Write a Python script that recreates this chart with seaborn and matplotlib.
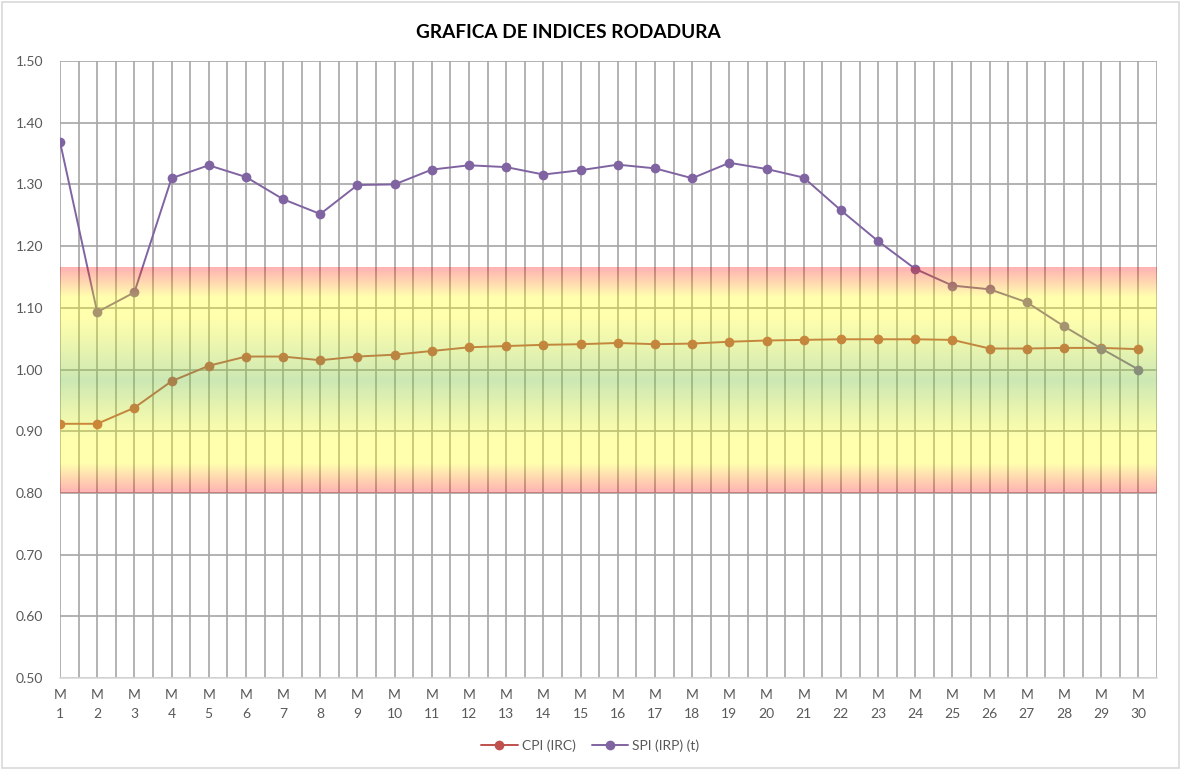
import numpy as np
import pandas as pd
import matplotlib
matplotlib.use("Agg")
import matplotlib.pyplot as plt
import seaborn as sns
from matplotlib.lines import Line2D
from matplotlib.patches import Rectangle
from matplotlib.ticker import MultipleLocator

# Data
meses = [f"M\n{i}" for i in range(1, 31)]
cpi = [0.912, 0.912, 0.938, 0.981, 1.006, 1.021, 1.021, 1.015, 1.021, 1.024,
       1.030, 1.036, 1.038, 1.040, 1.041, 1.043, 1.041, 1.042, 1.045, 1.047,
       1.048, 1.049, 1.049, 1.049, 1.048, 1.034, 1.034, 1.035, 1.035, 1.033]
spi = [1.369, 1.093, 1.125, 1.310, 1.331, 1.312, 1.276, 1.252, 1.299, 1.300,
       1.324, 1.331, 1.328, 1.316, 1.323, 1.332, 1.326, 1.310, 1.335, 1.325,
       1.311, 1.258, 1.208, 1.163, 1.136, 1.130, 1.109, 1.070, 1.034, 1.000]
series = ["CPI (IRC)", "SPI (IRP) (t)"]
banda_min, banda_max = 0.80, 1.166

colores = {"CPI (IRC)": "#C0504D", "SPI (IRP) (t)": "#8064A2"}

df = pd.DataFrame({
    "idx": list(range(len(meses))) * 2,
    "serie": [series[0]] * len(cpi) + [series[1]] * len(spi),
    "valor": cpi + spi,
})

sns.set_style("white")
plt.rcParams["font.family"] = ["Lato", "DejaVu Sans"]

fig = plt.figure(figsize=(11.81, 7.70), dpi=100)
ax = fig.add_axes([60 / 1181, 1 - 678 / 770, 1097 / 1181, 617 / 770])

sns.lineplot(data=df, x="idx", y="valor", hue="serie", palette=colores,
             marker="o", markersize=7, markeredgewidth=0, linewidth=1.4,
             legend=False, ax=ax, zorder=2)

# gradient band (red - yellow - green - yellow - red), drawn semi-transparent on top
stops = [0.0, 0.13, 0.24, 0.5, 0.78, 0.87, 1.0]
rgb = np.array([[1, 0, 0], [1, 1, 0], [1, 1, 0], [0.52, 0.78, 0.30],
                [1, 1, 0], [1, 1, 0], [1, 0, 0]])
alpha = [0.30, 0.32, 0.32, 0.42, 0.32, 0.32, 0.30]
t = np.linspace(0, 1, 256)
img = np.zeros((256, 1, 4))
for c in range(3):
    img[:, 0, c] = np.interp(t, stops, rgb[:, c])
img[:, 0, 3] = np.interp(t, stops, alpha)
ax.imshow(img, extent=[0, 29.5, banda_min, banda_max], origin="lower",
          aspect="auto", interpolation="bilinear", zorder=3)

ax.set_xlim(0, 29.5)
ax.set_ylim(0.5, 1.5)
ax.set_xticks(range(len(meses)))
ax.set_xticklabels(meses, linespacing=1.7)
ax.xaxis.set_minor_locator(MultipleLocator(0.5))
ax.set_yticks(np.arange(0.5, 1.51, 0.1))
ax.set_yticklabels([f"{v:.2f}" for v in np.arange(0.5, 1.51, 0.1)])
ax.tick_params(axis="both", which="both", length=0, labelsize=10,
               labelcolor="#595959")
ax.tick_params(axis="y", pad=12)
ax.tick_params(axis="x", pad=8)
ax.grid(True, axis="x", which="both", color="#A6A6A6", linewidth=1.2, zorder=1)
ax.grid(True, axis="y", which="major", color="#A6A6A6", linewidth=1.2, zorder=1)
ax.set_axisbelow(True)
for s in ["top", "right", "left"]:
    ax.spines[s].set_visible(False)
ax.spines["bottom"].set_color("#D9D9D9")
ax.spines["bottom"].set_linewidth(1.2)
ax.set_xlabel("")
ax.set_ylabel("")

fig.text(0.481, 1 - 33 / 770, "GRAFICA DE INDICES RODADURA", ha="center",
         va="center", fontsize=13.7, fontweight="bold", color="black")

handles = [Line2D([0], [0], color=colores[s], marker="o", markersize=7,
                  markeredgewidth=0, linewidth=1.4) for s in series]
fig.legend(handles, series, loc="center", bbox_to_anchor=(0.5, 1 - 746 / 770),
           ncol=2, frameon=False, fontsize=10, labelcolor="#595959",
           handlelength=2.6, columnspacing=1.2, handletextpad=0.3)

fig.patches.append(Rectangle((0.002, 0.002), 0.996, 0.995, transform=fig.transFigure,
                             fill=False, edgecolor="#D9D9D9", linewidth=1.2))

fig.savefig("out.png", dpi=100)
plt.close(fig)
